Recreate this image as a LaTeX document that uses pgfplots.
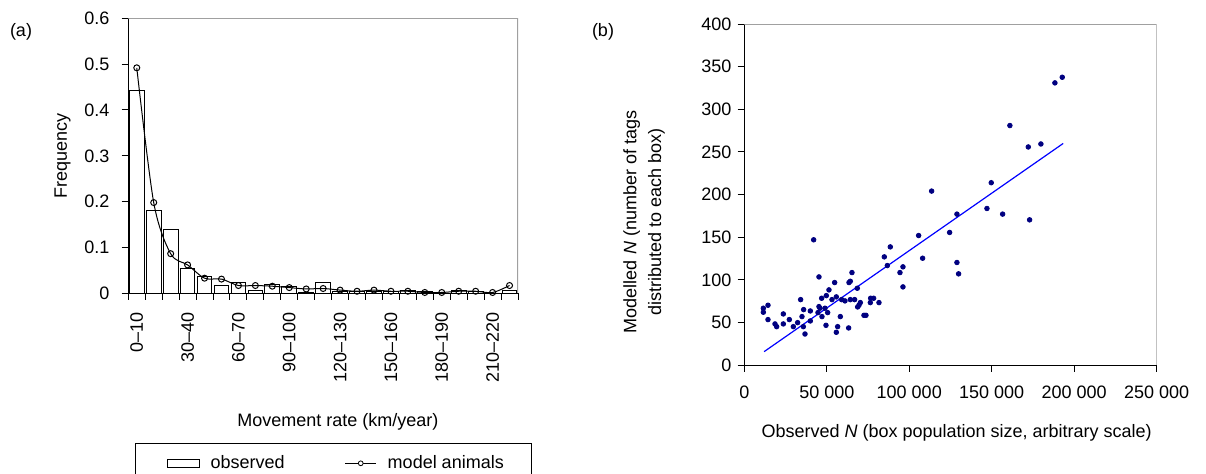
\documentclass[border=0pt]{standalone}
\usepackage{pgfplots}
\pgfplotsset{compat=1.18}
\usepackage{fontspec}
\setmainfont{Liberation Sans}
\definecolor{navy}{RGB}{0,0,128}
\definecolor{fitblue}{RGB}{0,0,255}
\definecolor{frame}{RGB}{160,160,160}
\begin{document}
\fontsize{9}{10.8}\selectfont
\begin{tikzpicture}
\useasboundingbox (0pt,0pt) rectangle (603pt,-236.5pt);
\node at (10.5pt,-16pt) {(a)};
\node at (301.5pt,-16pt) {(b)};
\begin{axis}[
  at={(64.15pt,-146.65pt)}, anchor=south west,
  scale only axis, width=194.85pt, height=137.5pt,
  xmin=-0.5, xmax=22.5, ymin=0, ymax=0.6,
  axis x line*=bottom, axis y line*=left,
  axis line style={black, line width=0.5pt},
  tick align=outside, tick style={black, line width=0.5pt},
  major tick length=3.3pt, minor tick length=3.3pt,
  xtick={0,3,6,9,12,15,18,21},
  xticklabels={0–10,30–40,60–70,90–100,120–130,150–160,180–190,210–220},
  major x tick style={draw=none},
  minor xtick={-0.5,0.5,...,22.5},
  xticklabel style={rotate=90, anchor=east},
  xticklabel shift=3.3pt,
  yticklabel shift=3pt,
  ytick={0,0.1,0.2,0.3,0.4,0.5,0.6},
  yticklabels={0,0.1,0.2,0.3,0.4,0.5,0.6},
  ylabel={Frequency},
  ylabel style={at={(axis description cs:-0.169,0.5)}, anchor=center},
  xlabel={Movement rate (km/year)},
  xlabel style={at={(axis description cs:0.538,-0.467)}, anchor=center},
  legend columns=2,
  legend style={at={(axis description cs:0.0172,-0.5455)}, anchor=north west,
    draw=black, line width=0.5pt, inner xsep=12pt, inner ysep=3.8pt,
    /tikz/every odd column/.append style={column sep=3.5pt},
    /tikz/every even column/.append style={column sep=28pt}},
]
\addplot[ybar, bar width=0.87, draw=black, fill=white, line width=0.5pt,
  legend image code/.code={\path (0pt,0pt); \draw[black,fill=white,line width=0.5pt] (3.8pt,-1.9pt) rectangle (19.6pt,1.9pt);}]
  coordinates {(0,0.442) (1,0.181) (2,0.140) (3,0.0545) (4,0.036) (5,0.018) (6,0.023)
  (7,0.006) (8,0.019) (9,0.015) (10,0.002) (11,0.024) (12,0.004) (13,0.0045) (14,0.004)
  (15,0.0045) (16,0.006) (17,0.0045) (18,0) (19,0.006) (20,0.003) (21,0) (22,0.006)};
\addlegendentry{observed}
\addplot[black, line width=0.5pt, smooth, tension=0.5, mark=o, mark size=1.5pt,
  mark options={fill=white, solid},
  legend image code/.code={\draw[black,line width=0.5pt] (0pt,0pt) -- (15.5pt,0pt);
    \draw[black,fill=white,line width=0.4pt] (7.75pt,0pt) circle (1.2pt);}]
  coordinates {(0,0.492) (1,0.198) (2,0.0865) (3,0.062) (4,0.033) (5,0.031) (6,0.017)
  (7,0.017) (8,0.0155) (9,0.0125) (10,0.0095) (11,0.0105) (12,0.007) (13,0.0045) (14,0.007)
  (15,0.0045) (16,0.0045) (17,0.0018) (18,0.0018) (19,0.0045) (20,0.0045) (21,0.0018) (22,0.017)};
\addlegendentry{model animals}
\draw[frame, line width=0.6pt] (rel axis cs:0,1) -- (rel axis cs:1,1) -- (rel axis cs:1,0);
\end{axis}

\begin{axis}[
  at={(372.15pt,-182.65pt)}, anchor=south west,
  scale only axis, width=206.2pt, height=170.65pt,
  xmin=0, xmax=250000, ymin=0, ymax=400,
  axis x line*=bottom, axis y line*=left,
  axis line style={black, line width=0.5pt},
  tick align=outside, tick style={black, line width=0.5pt},
  major tick length=3.3pt,
  scaled x ticks=false,
  xticklabel shift=4pt,
  xtick={0,50000,100000,150000,200000,250000},
  xticklabels={0,50 000,100 000,150 000,200 000,250 000},
  ytick={0,50,100,150,200,250,300,350,400},
  yticklabels={0,50,100,150,200,250,300,350,400},
  xlabel={Observed \textit{N} (box population size, arbitrary scale)},
  xlabel style={at={(axis description cs:0.515,-0.197)}, anchor=center},
  ylabel={Modelled \textit{N} (number of tags\\distributed to each box)},
  ylabel style={at={(axis description cs:-0.243,0.42)}, anchor=center, align=center,
    font=\fontsize{9}{12.5}\selectfont},
]
\addplot[only marks, mark=*, mark size=1.15pt, navy, mark options={draw=navy, fill=navy}]
  coordinates {
  (192750,337.6) (188300,331) (161000,281) (172150,255.9) (179800,259.4) (149700,214)
  (113550,204.2) (147100,183.8) (156600,177.2) (172950,170.5) (128900,177.2) (105680,152.1)
  (124470,155.7) (88500,138.8) (84870,127.1) (86690,116.9) (108100,125.5) (128900,120.5)
  (129900,107.2) (96180,115.4) (94370,108.7) (96180,91.9) (42040,147.1) (45270,103.6)
  (65270,108.7) (64260,98.5) (63460,97) (54770,97) (68500,90.3) (51330,88.4) (49720,81.7)
  (46890,78.6) (55780,80.2) (53150,77.0) (59010,77.0) (61030,75.5) (64260,77.0) (66890,77.0)
  (70330,73.5) (68710,68.4) (69510,70.4) (76590,78.6) (78400,78.6) (76390,73.5) (81640,73.5)
  (34160,77.0) (35980,65.3) (40020,63.7) (45270,68.8) (45880,66.9) (48910,66.9) (44670,61.8)
  (50530,61.8) (47090,57.1) (58200,57.1) (72540,58.6) (73760,58.6) (11540,66.9) (11540,62.2)
  (14360,70.4) (14360,53.6) (23660,60.2) (23660,48.5) (27290,53.6) (18610,48.5) (19620,45.3)
  (29720,45.3) (32340,50.0) (34970,57.1) (35780,45.3) (40030,52.0) (36790,36.7) (49520,46.9)
  (56590,45.3) (55780,38.7) (63250,43.8)};
\addplot[fitblue, line width=0.6pt] coordinates {(12000,16) (193300,260)};
\draw[frame, line width=0.6pt] (rel axis cs:0,1) -- (rel axis cs:1,1) -- (rel axis cs:1,0);
\end{axis}
\end{tikzpicture}
\end{document}
